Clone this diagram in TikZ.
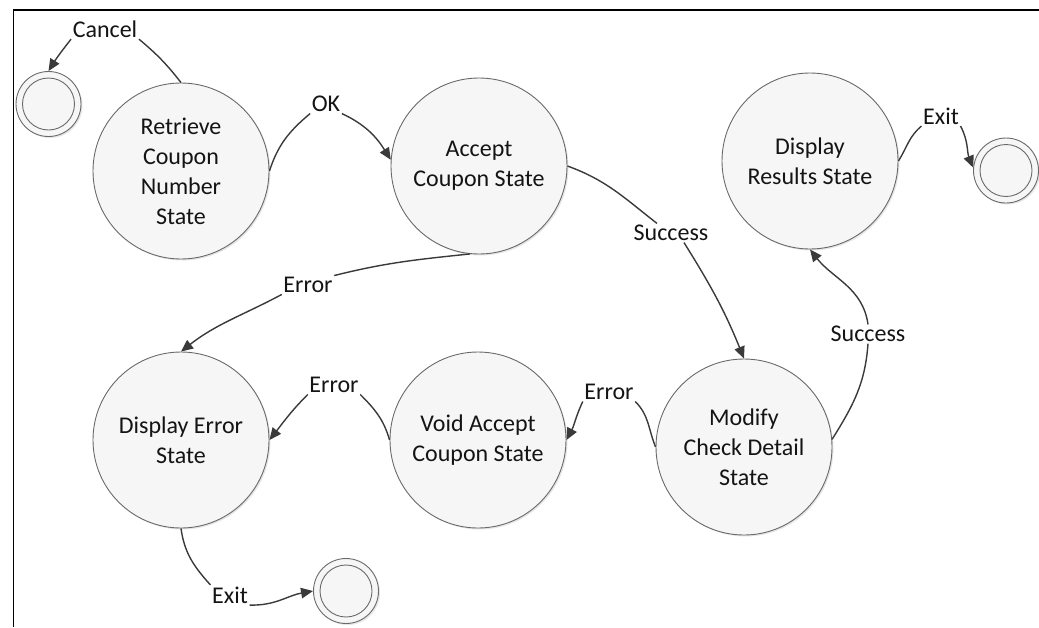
\documentclass[tikz,border=0pt]{standalone}
\usepackage{fontspec}
\setmainfont{Carlito}
\usetikzlibrary{arrows.meta,shadows}
\definecolor{edgec}{HTML}{3A3A3A}
\definecolor{circc}{HTML}{6A6A6A}
\definecolor{fillc}{HTML}{F6F6F6}
\definecolor{txtc}{HTML}{141414}
\begin{document}
\begin{tikzpicture}[x=1pt,y=1pt,
  every node/.style={font=\fontsize{24}{30}\selectfont, text=txtc},
  stat/.style={circle, draw=circc, line width=0.9pt, fill=fillc, minimum size=176pt, inner sep=0pt, align=center,
    drop shadow={shadow xshift=1.5pt, shadow yshift=-1.5pt, opacity=0.2, fill=gray}},
  final/.style={circle, draw=circc, line width=0.9pt, fill=fillc, minimum size=65pt, inner sep=0pt,
    drop shadow={shadow xshift=1.5pt, shadow yshift=-1.5pt, opacity=0.2, fill=gray},
    path picture={\draw[circc, line width=0.9pt] (path picture bounding box.center) circle (26pt);}},
  lbl/.style={inner sep=1.5pt},
  conn/.style={draw=edgec, line width=1.4pt},
  arr/.style={conn, -{Triangle[length=12pt,width=10.5pt]}}
]
\useasboundingbox (0,0) rectangle (1039,-627);
% frame
\draw[line width=1.5pt] (1039,-9.8) -- (13.5,-9.8) -- (13.5,-627);

% states
\node[stat] (R)  at (181,-171) {Retrieve\\Coupon\\Number\\State};
\node[stat] (A)  at (479,-166) {Accept\\Coupon State};
\node[stat] (DR) at (810,-161) {Display\\Results State};
\node[stat] (DE) at (181,-440) {Display Error\\State};
\node[stat] (V)  at (478,-440) {Void Accept\\Coupon State};
\node[stat] (M)  at (744,-447) {Modify\\Check Detail\\State};

\node[final] (F1) at (48.5,-104) {};
\node[final] (F2) at (1006,-170.5) {};
\node[final] (F3) at (346,-591) {};

% labels
\node[lbl] (cancel) at (105,-29) {Cancel};
\node[lbl] (ok)     at (326,-104) {OK};
\node[lbl] (succ1)  at (671,-233) {Success};
\node[lbl] (succ2)  at (868,-334) {Success};
\node[lbl] (exit1)  at (941,-116) {Exit};
\node[lbl] (err1)   at (308,-285) {Error};
\node[lbl] (err2)   at (609,-392) {Error};
\node[lbl] (err3)   at (334,-385) {Error};
\node[lbl] (exit2)  at (230,-595) {Exit};

% connectors
\draw[conn] (R.north) to[out=128,in=-40] (cancel.south east);
\draw[arr]  (cancel.south west) to[out=-128,in=58] (F1.north);

\draw[conn] (R.east) to[out=72,in=-140] (ok.south west);
\draw[arr]  (ok.south east) to[out=-25,in=122] (A.176);

\draw[conn] (A.east) to[out=-20,in=142] ([xshift=-14pt]succ1.north);
\draw[arr]  ([xshift=13pt]succ1.south) to[out=-58,in=112] (M.north);

\draw[conn] (M.5) to[out=58,in=-94] (succ2.south);
\draw[arr]  (succ2.north) to[out=98,in=-52] (DR.south);

\draw[conn] (DR.east) to[out=58,in=-140] (exit1.south west);
\draw[arr]  (exit1.south east) to[out=-62,in=112] (F2.175);

\draw[conn] (A.-96) to[out=186,in=14] (err1.north east);
\draw[arr]  (err1.south west) to[out=-152,in=38] (DE.north);

\draw[conn] (M.west) to[out=112,in=-45] (err2.south east);
\draw[arr]  (err2.south west) to[out=-115,in=62] (V.east);

\draw[conn] (V.west) to[out=106,in=-45] (err3.south east);
\draw[arr]  (err3.south west) to[out=-135,in=52] (DE.east);

\draw[conn] (DE.south) to[out=-82,in=132] (exit2.north west);
\draw[arr]  (exit2.south east) to[out=-2,in=190] (F3.west);
\end{tikzpicture}
\end{document}
